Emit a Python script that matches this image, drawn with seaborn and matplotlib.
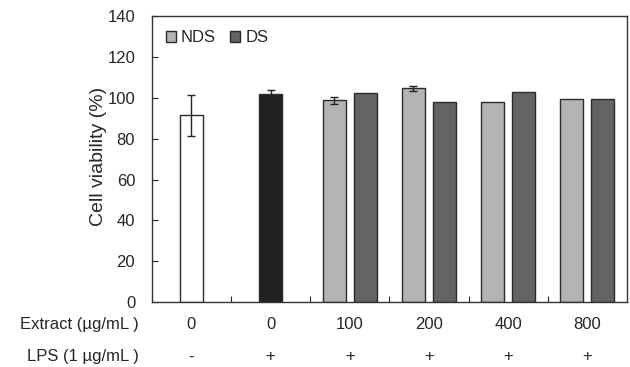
import matplotlib
matplotlib.use("Agg")
import matplotlib.pyplot as plt
import matplotlib.transforms as mtransforms
import numpy as np
import pandas as pd
import seaborn as sns

# chart data
groups = ["ctrl", "lps", "100", "200", "400", "800"]
extract_labels = ["0", "0", "100", "200", "400", "800"]
lps_labels = ["-", "+", "+", "+", "+", "+"]

single_groups = ["ctrl", "lps"]
single_values = [91.5, 102.0]
single_err = [10.0, 2.0]

dose_groups = ["100", "200", "400", "800"]
nds_values = [98.9, 104.6, 98.1, 99.4]
nds_err = [1.7, 1.3, 0.0, 0.0]
ds_values = [102.4, 97.8, 102.8, 99.2]
ds_err = [0.0, 0.0, 0.0, 0.0]

sns.set_style("ticks")
plt.rcParams["font.family"] = ["Liberation Sans", "DejaVu Sans"]
plt.rcParams["font.size"] = 12

fig = plt.figure(figsize=(6.3, 3.67), dpi=100)
ax = fig.add_axes([0.241, 0.177, 0.754, 0.779])

edge = "#2b2b2b"

df_single = pd.DataFrame({"group": single_groups, "value": single_values,
                          "kind": ["ctrl", "lps"]})
sns.barplot(data=df_single, x="group", y="value", hue="kind", order=groups,
            palette={"ctrl": "white", "lps": "#231f20"}, width=0.29,
            dodge=False, errorbar=None, legend=False, edgecolor=edge,
            linewidth=1, ax=ax)

df_dose = pd.DataFrame({
    "group": dose_groups * 2,
    "value": nds_values + ds_values,
    "series": ["NDS"] * len(dose_groups) + ["DS"] * len(dose_groups),
})
sns.barplot(data=df_dose, x="group", y="value", hue="series", order=groups,
            hue_order=["NDS", "DS"], palette={"NDS": "#b3b3b6", "DS": "#636363"},
            width=0.78, gap=0.26, errorbar=None, edgecolor=edge, linewidth=1,
            ax=ax)

# error bars placed on the drawn bars
bars = [p for p in ax.patches if p.get_height() > 0]
errs = single_err + nds_err + ds_err
for p, e in zip(bars, errs):
    if e > 0:
        ax.errorbar(p.get_x() + p.get_width() / 2, p.get_height(), yerr=e,
                    color="#222222", capsize=3, lw=1, capthick=1)

ax.set_ylim(0, 140)
ax.set_yticks(range(0, 141, 20))
ax.set_xlim(-0.5, len(groups) - 0.5)
ax.set_xticks(range(len(groups)))
ax.set_xticklabels(extract_labels)
ax.tick_params(axis="x", length=0, pad=11, labelsize=12)
ax.set_xticks(np.arange(0.5, len(groups) - 0.5, 1), minor=True)
ax.tick_params(axis="x", which="minor", direction="in", length=4, width=0.8)
ax.tick_params(axis="y", direction="in", length=4, width=0.8, pad=12,
               labelsize=12)
ax.set_xlabel("")
ax.set_ylabel("Cell viability (%)", fontsize=14)
ax.yaxis.set_label_coords(-0.095, 0.51)
for s in ax.spines.values():
    s.set_linewidth(1)
    s.set_color("#333333")

trans = mtransforms.blended_transform_factory(ax.transData, ax.transAxes)
for i, lab in enumerate(lps_labels):
    ax.text(i, -0.192, lab, transform=trans, ha="center", va="center", fontsize=12)
ax.text(-0.027, -0.080, "Extract (µg/mL )", transform=ax.transAxes,
        ha="right", va="center", fontsize=12)
ax.text(-0.027, -0.192, "LPS (1 µg/mL )", transform=ax.transAxes,
        ha="right", va="center", fontsize=12)

ax.legend(loc="upper left", frameon=False, ncol=2, handlelength=0.6,
          handleheight=0.6, handletextpad=0.3, columnspacing=0.85,
          borderaxespad=0.4, borderpad=0.45, fontsize=12)

fig.savefig("out.png", dpi=100)
